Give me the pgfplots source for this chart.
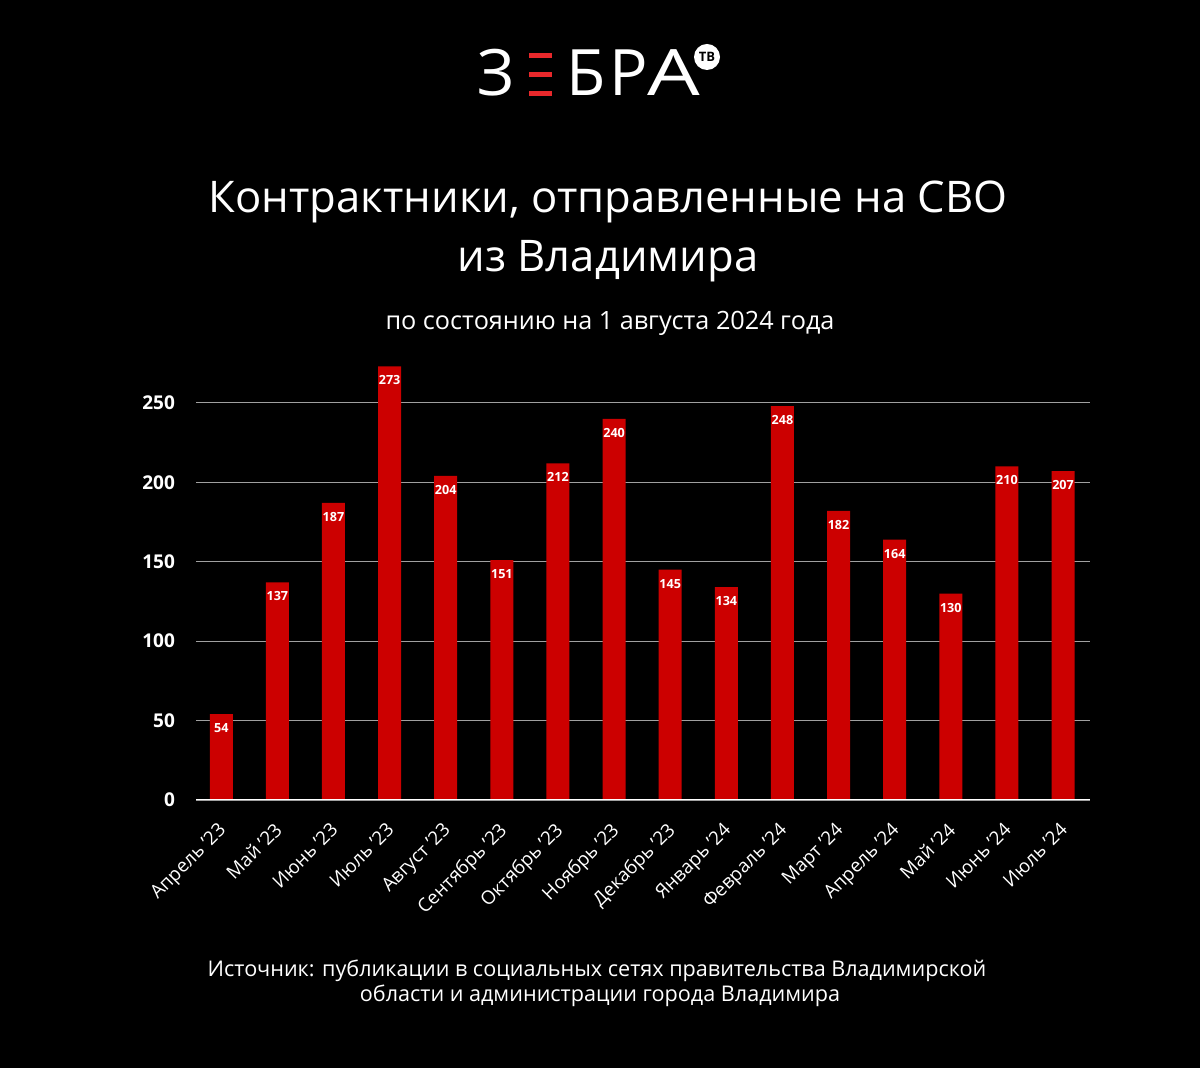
\documentclass[border=0pt]{standalone}
\usepackage{fontspec}
\setmainfont{Open Sans}
\usepackage{pgfplots}
\pgfplotsset{compat=1.18}
\definecolor{barred}{HTML}{CC0000}
\definecolor{logored}{HTML}{E8282B}
\definecolor{gridgray}{HTML}{A0A0A0}

\begin{document}
\begin{tikzpicture}
  % background, 1 px = 0.5pt
  \fill[black] (0,0) rectangle (600pt,-534pt);

  \begin{axis}[
      at={(98pt,-400pt)}, anchor=south west,
      scale only axis,
      width=447pt, height=218.4pt,
      xmin=-0.45, xmax=15.48,
      ymin=0, ymax=275,
      axis line style={draw=none},
      axis x line*=bottom,
      ytick={0,50,100,150,200,250},
      ymajorgrids,
      grid style={gridgray, line width=0.6pt},
      major tick length=0pt,
      xtick=data,
      xticklabels={Апрель ’23, Май ’23, Июнь ’23, Июль ’23, Август ’23, Сентябрь ’23, Октябрь ’23, Ноябрь ’23, Декабрь ’23, Январь ’24, Февраль ’24, Март ’24, Апрель ’24, Май ’24, Июнь ’24, Июль ’24},
      x tick label style={rotate=45, anchor=north east, inner sep=0pt, font=\fontsize{9.4}{10}\selectfont, text=white, xshift=-8.9pt, yshift=-5.9pt},
      y tick label style={font=\fontsize{9.5}{10}\selectfont\bfseries, text=white, xshift=-7pt},
      /pgf/number format/assume math mode=true,
      ybar, bar width=11.5pt,
      nodes near coords,
      every node near coord/.style={anchor=north, inner sep=0pt, yshift=-4.5pt,
        font=\fontsize{6.3}{7}\selectfont\bfseries, text=white},
    ]
    \addplot[fill=barred, draw=none] coordinates {
      (0,54) (1,137) (2,187) (3,273) (4,204) (5,151) (6,212) (7,240)
      (8,145) (9,134) (10,248) (11,182) (12,164) (13,130) (14,210) (15,207)
    };
    \draw[white, line width=0.8pt] (axis cs:-0.45,0) -- (axis cs:15.48,0);
  \end{axis}

  \begin{scope}[x=0.5pt, y=-0.5pt]
    % logo
    \node[anchor=base, text=white, font=\fontsize{32}{32}\selectfont, inner sep=0] at (496,96) {З};
    \fill[logored] (529,53) rectangle (552,58);
    \fill[logored] (529,72) rectangle (552,77);
    \fill[logored] (529,91) rectangle (552,96);
    \node[anchor=base west, text=white, font=\fontsize{32}{32}\selectfont, inner sep=0] at (566,96) {Б};
    \node[anchor=base west, text=white, font=\fontsize{32}{32}\selectfont, inner sep=0] at (609,96) {Р};
    \node[anchor=base west, text=white, font=\fontsize{32}{32}\selectfont, inner sep=0, xscale=1.3] at (647,96) {А};
    \fill[white] (707,57) circle (13);
    \node[text=black, font=\fontsize{6.5}{7}\selectfont\bfseries, inner sep=0] at (707,57) {ТВ};

    % titles
    \node[anchor=base, text=white, font=\fontsize{21.8}{24}\selectfont] at (608,213) {Контрактники, отправленные на СВО};
    \node[anchor=base, text=white, font=\fontsize{21.8}{24}\selectfont] at (608,272) {из Владимира};
    \node[anchor=base, text=white, font=\fontsize{12.6}{14}\selectfont] at (610,330) {по состоянию на 1 августа 2024 года};

    % source
    \node[anchor=base, text=white, font=\fontsize{10.8}{12}\selectfont] at (597,977) {Источник: публикации в социальных сетях правительства Владимирской};
    \node[anchor=base, text=white, font=\fontsize{10.8}{12}\selectfont] at (600,1001) {области и администрации города Владимира};
  \end{scope}
\end{tikzpicture}
\end{document}
